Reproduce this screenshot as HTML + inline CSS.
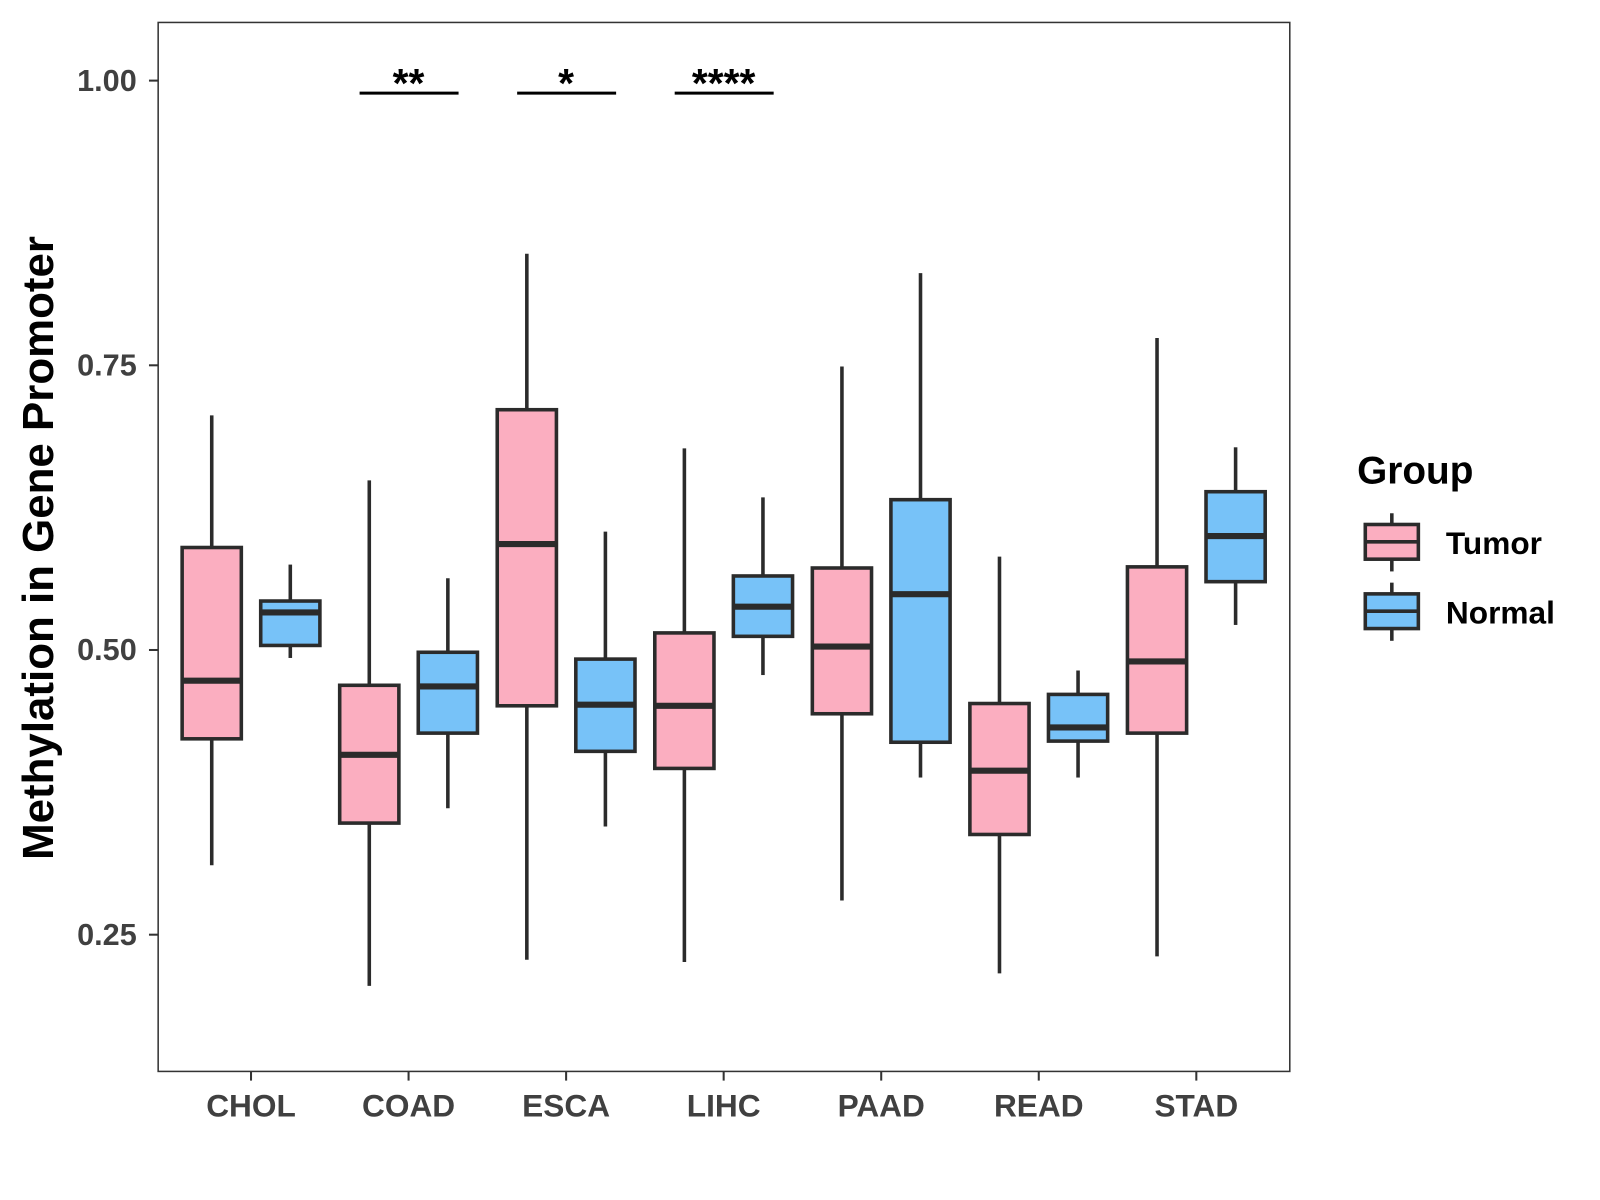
<!DOCTYPE html>
<html><head><meta charset="utf-8"><style>
html,body{margin:0;padding:0;background:#fff;}
svg{display:block;font-family:"Liberation Sans",Arial,sans-serif;}
</style></head><body>
<svg id="chart" width="1600" height="1200" viewBox="0 0 1600 1200">
<g transform="scale(1.0204)">
<rect x="155" y="22" width="1109" height="1028" fill="#fff" stroke="#333" stroke-width="1.5"/>
<g id="yaxis"></g>
<g id="xaxis"></g>
<g id="boxes"></g>
<g id="sig"></g>
<text x="52" y="537" transform="rotate(-90 52 537)" text-anchor="middle" font-size="43" font-weight="bold" fill="#000">Methylation in Gene Promoter</text>
<g>
<text x="1330" y="474" font-size="38" font-weight="bold" fill="#000">Group</text>
<g>
<line x1="1364" y1="503" x2="1364" y2="560" stroke="#2b2b2b" stroke-width="3.5"/>
<rect x="1338" y="514" width="52" height="34" fill="#FBAEC0" stroke="#2b2b2b" stroke-width="3.5"/>
<line x1="1338" y1="531" x2="1390" y2="531" stroke="#2b2b2b" stroke-width="3.5"/>
<text x="1417" y="543" font-size="31" font-weight="bold" fill="#000">Tumor</text></g>
<g>
<line x1="1364" y1="571" x2="1364" y2="628" stroke="#2b2b2b" stroke-width="3.5"/>
<rect x="1338" y="582" width="52" height="34" fill="#77C2F8" stroke="#2b2b2b" stroke-width="3.5"/>
<line x1="1338" y1="599" x2="1390" y2="599" stroke="#2b2b2b" stroke-width="3.5"/>
<text x="1417" y="611" font-size="31" font-weight="bold" fill="#000">Normal</text></g>
</g>
</g>
</svg>
<script>
const categories=["CHOL","COAD","ESCA","LIHC","PAAD","READ","STAD"];
const yTicks=[0.25,0.5,0.75,1.0];
const yTickLabels=["0.25","0.50","0.75","1.00"];
// [low, q1, median, q3, high]
const tumorStats=[[0.311,0.422,0.473,0.590,0.706],[0.205,0.348,0.408,0.469,0.649],[0.228,0.451,0.593,0.711,0.848],[0.226,0.396,0.451,0.515,0.677],[0.280,0.444,0.503,0.572,0.749],[0.216,0.338,0.394,0.453,0.582],[0.231,0.427,0.490,0.573,0.774]];
const normalStats=[[0.493,0.504,0.533,0.543,0.575],[0.361,0.427,0.468,0.498,0.563],[0.345,0.411,0.452,0.492,0.604],[0.478,0.512,0.538,0.565,0.634],[0.388,0.419,0.549,0.632,0.831],[0.388,0.420,0.432,0.461,0.482],[0.522,0.560,0.600,0.639,0.678]];
const sigCategories=["COAD","ESCA","LIHC"];
const sigLabels=["**","*","****"];
const sigLevel=0.989;

const NS="http://www.w3.org/2000/svg";
function y(v){return 79+(1-v)*1116;}
function x(i){return 246+i*154.4;}
function mk(tag,attrs,parent){const e=document.createElementNS(NS,tag);for(const k in attrs)e.setAttribute(k,attrs[k]);parent.appendChild(e);return e;}
const ya=document.getElementById('yaxis'),xa=document.getElementById('xaxis'),bx=document.getElementById('boxes'),sg=document.getElementById('sig');
yTicks.forEach((t,i)=>{
 const l=mk('line',{x1:146,x2:155,y1:y(t),y2:y(t),stroke:'#333','stroke-width':2},ya);
 
 
 const tx=mk('text',{x:134,y:y(t)+10,'text-anchor':'end','font-size':30,'font-weight':'bold',fill:'#404040'},ya);
 tx.textContent=yTickLabels[i];
 
 
});
categories.forEach((c,i)=>{
 const l=mk('line',{x1:x(i),x2:x(i),y1:1050,y2:1059,stroke:'#333','stroke-width':2},xa);
 
 
 const tx=mk('text',{x:x(i),y:1094,'text-anchor':'middle','font-size':31,'font-weight':'bold',fill:'#404040'},xa);
 tx.textContent=c;
 
 
});
function box(cx,s,fill,name){
 const g=mk('g',{},bx);
 
 
 const st={stroke:'#2b2b2b','stroke-width':3.5};
 mk('line',Object.assign({x1:cx,x2:cx,y1:y(s[4]),y2:y(s[3])},st),g);
 mk('line',Object.assign({x1:cx,x2:cx,y1:y(s[1]),y2:y(s[0])},st),g);
 mk('rect',Object.assign({x:cx-29,y:y(s[3]),width:58,height:y(s[1])-y(s[3]),fill:fill},st),g);
 mk('line',{x1:cx-29,x2:cx+29,y1:y(s[2]),y2:y(s[2]),stroke:'#2b2b2b','stroke-width':6},g);
}
categories.forEach((c,i)=>{
 box(x(i)-38.5,tumorStats[i],'#FBAEC0','box-tumor-'+c.toLowerCase());
 box(x(i)+38.5,normalStats[i],'#77C2F8','box-normal-'+c.toLowerCase());
});
sigCategories.forEach((c,j)=>{
 const i=categories.indexOf(c);
 const l=mk('line',{x1:x(i)-48,x2:x(i)+49,y1:y(sigLevel),y2:y(sigLevel),stroke:'#000','stroke-width':3},sg);
 
 
 const tx=mk('text',{x:x(i),y:y(sigLevel)+4,'text-anchor':'middle','font-size':40,'font-weight':'bold',fill:'#000'},sg);
 tx.textContent=sigLabels[j];
 
 
});
</script>
</body></html>
